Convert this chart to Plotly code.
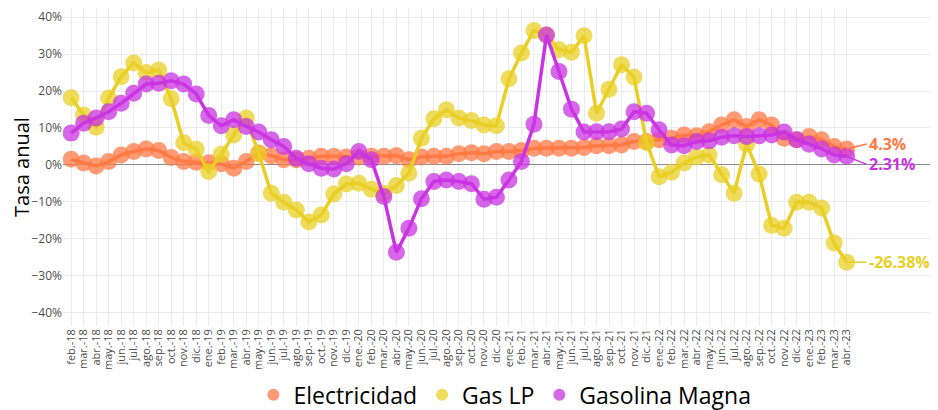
"""Tasa anual de precios: electricidad, gas LP y gasolina magna (feb-18 a abr-23)."""

import plotly.graph_objects as go

MESES = ["ene.", "feb.", "mar.", "abr.", "may.", "jun.",
         "jul.", "ago.", "sep.", "oct.", "nov.", "dic."]
periodos = [f"{MESES[m]}-{a}" for a in range(18, 24) for m in range(12)]
periodos = periodos[1:periodos.index("abr.-23") + 1]

electricidad = [1.5, 0.5, -0.3, 0.9, 2.7, 3.6, 4.3, 3.9, 2.0, 0.9, 0.7, 0.6, 0.3, -0.9, 0.9,
                3.2, 2.5, 1.4, 1.4, 1.8, 2.3, 2.3, 2.1, 2.1, 2.3, 2.3, 2.5, 1.4, 2.1, 2.3, 2.3,
                3.0, 3.3, 3.0, 3.6, 3.6, 3.9, 4.5, 4.5, 4.5, 4.5, 4.7, 5.2, 5.2, 5.4, 6.3,
                6.3, 6.8, 7.2, 8.1, 7.9, 9.0, 10.8, 12.2, 10.4, 12.2, 10.8, 7.2, 6.8, 7.7, 6.8, 5.0, 4.3]
gas_lp = [18.2, 13.5, 10.2, 18.1, 23.9, 27.6, 25.0, 25.7, 17.9, 6.0, 4.2, -1.8, 2.9, 8.1, 12.7,
          3.0, -7.7, -10.1, -12.2, -15.5, -13.6, -7.9, -5.2, -5.0, -6.6, -7.7, -5.6, -2.3, 7.2, 12.5, 14.9,
          12.7, 12.0, 10.8, 10.6, 23.3, 30.3, 36.4, 35.2, 31.2, 30.5, 35.0, 14.0, 20.5, 27.1, 23.8,
          6.0, -3.2, -2.0, 0.5, 2.1, 2.7, -2.7, -7.7, 5.6, -2.5, -16.4, -17.2, -10.1, -10.1, -11.7, -21.2, -26.38]
gasolina_magna = [8.6, 11.3, 12.7, 14.4, 16.7, 19.4, 21.9, 22.1, 22.8, 21.9, 19.2, 13.4, 10.6, 12.2, 10.4,
                  8.9, 6.8, 5.0, 1.8, 0.3, -0.9, -1.1, 0.3, 3.6, 1.4, -8.6, -23.7, -17.2, -9.2, -4.5, -4.1,
                  -4.5, -5.1, -9.3, -8.8, -4.1, 0.9, 11.0, 35.2, 25.3, 15.1, 8.9, 9.0, 9.0, 9.7, 14.4,
                  14.0, 9.5, 5.4, 5.2, 6.3, 6.5, 7.5, 7.9, 7.7, 7.9, 8.1, 8.9, 6.8, 5.6, 4.3, 2.7, 2.31]

SERIES = [
    ("Electricidad", electricidad, "#FF7A45", -5),
    ("Gas LP", gas_lp, "#E9CF25", 0),
    ("Gasolina Magna", gasolina_magna, "#C934E2", 8),
]
FUENTE = "Open Sans"

fig = go.Figure()
for nombre, valores, color, _ in SERIES:
    fig.add_trace(go.Scatter(
        x=periodos, y=valores, name=nombre, mode="lines+markers", showlegend=False,
        line=dict(color=color, width=3.5),
        marker=dict(color=color, size=17, opacity=0.75),
    ))
# leyenda solo con el circulo
for nombre, _, color, _ in SERIES:
    fig.add_trace(go.Scatter(
        x=[None], y=[None], name=nombre, mode="markers",
        marker=dict(color=color, size=18, opacity=0.75),
    ))

# etiquetas con el ultimo valor de cada serie
for nombre, valores, color, desplaz in SERIES:
    fig.add_annotation(
        x=periodos[-1], y=valores[-1], text=f"<b>{valores[-1]:g}%</b>",
        showarrow=True, arrowhead=0, arrowwidth=1.5, arrowcolor=color,
        ax=20, ay=desplaz, xanchor="left",
        font=dict(color=color, size=16, family=FUENTE),
    )

fig.update_layout(
    width=938, height=410,
    margin=dict(l=55, r=8, t=0, b=92),
    plot_bgcolor="white", paper_bgcolor="white",
    font=dict(family=FUENTE, color="#4d4d4d"),
    showlegend=True,
    legend=dict(orientation="h", x=0.505, xanchor="center", y=-0.216, yanchor="middle",
                font=dict(size=23, color="black"), itemsizing="constant"),
    xaxis=dict(type="category", range=[-0.65, 69.3], showgrid=True, gridcolor="#ebebeb",
               tickmode="array", tickvals=periodos, ticktext=periodos,
               tickangle=-90, tickfont=dict(size=11, color="#4d4d4d"), ticks="",
               zeroline=False, showline=False, automargin=False),
    yaxis=dict(range=[-43.66, 42.5], dtick=10, ticksuffix="%", showgrid=True, gridcolor="#ebebeb",
               zeroline=True, zerolinecolor="#8c8c8c", zerolinewidth=1.2, automargin=False,
               tickfont=dict(size=12, color="#4d4d4d"),
               title=dict(text="Tasa anual", font=dict(size=20, color="black"), standoff=8)),
)

fig.write_html("out.html")
